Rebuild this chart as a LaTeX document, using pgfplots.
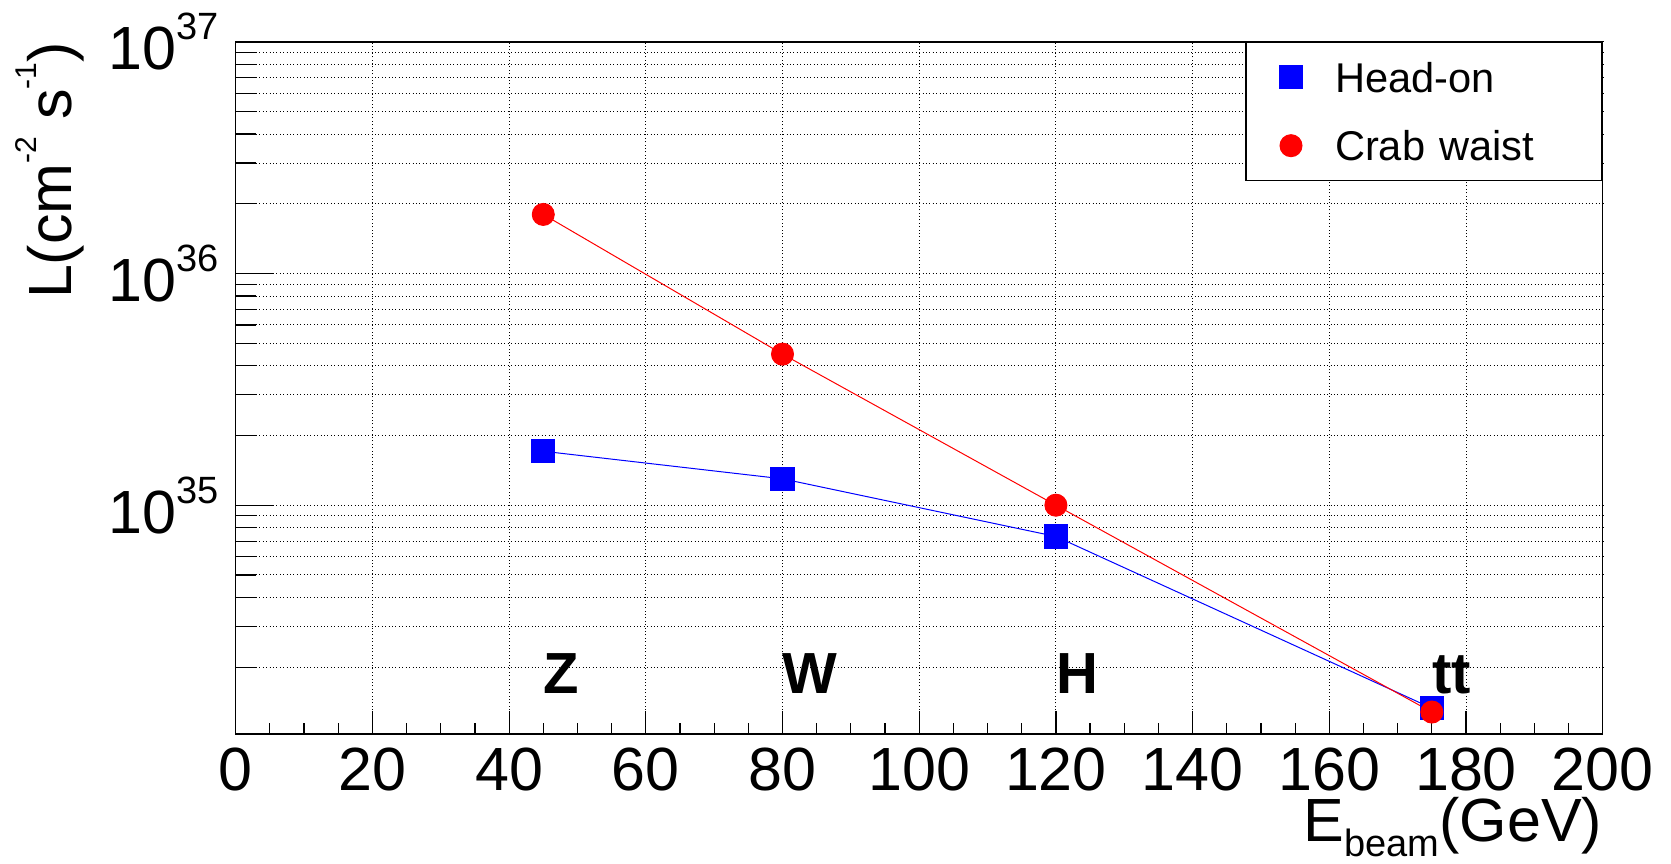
\documentclass[border=0pt]{standalone}
\usepackage{fontspec}
\setmainfont{Liberation Sans}
\usepackage{pgfplots}
\pgfplotsset{compat=1.18}
\usetikzlibrary{calc}

\newcommand{\sups}[1]{\raisebox{15pt}{\fontsize{19}{19}\selectfont #1}}
\newcommand{\lsups}[1]{\raisebox{17.5pt}{\fontsize{15}{15}\selectfont #1}}

\begin{document}
\begin{tikzpicture}
\begin{axis}[
  scale only axis, width=683.5pt, height=346pt,
  xmin=0, xmax=200, ymode=log, ymin=1.03e34, ymax=1e37,
  axis line style={black, line width=0.7pt},
  tick align=inside, xtick pos=left, ytick pos=left,
  xtick={0,20,...,200}, minor x tick num=3,
  ytick={1e35,1e36,1e37},
  yticklabels={10\sups{35}, 10\sups{36}, 10\sups{37}},
  minor ytick={2e34,3e34,4e34,5e34,6e34,7e34,8e34,9e34,
               2e35,3e35,4e35,5e35,6e35,7e35,8e35,9e35,
               2e36,3e36,4e36,5e36,6e36,7e36,8e36,9e36},
  xtick style={black, line width=0.6pt, /pgfplots/major tick length=11.7pt, /pgfplots/minor tick length=5.7pt},
  ytick style={black, line width=0.6pt, /pgfplots/major tick length=19pt, /pgfplots/minor tick length=10pt},
  /pgf/number format/assume math mode=true,
  tick label style={font=\fontsize{30.5}{30.5}\selectfont, inner sep=0pt},
  xticklabel style={anchor=north, yshift=-7pt},
  yticklabel style={anchor=east, xshift=-8.5pt},
  xmajorgrids, ymajorgrids, yminorgrids,
  major grid style={black, line width=0.5pt, dash pattern=on 0.5pt off 1.2pt},
  minor grid style={black, line width=0.5pt, dash pattern=on 0.5pt off 1.2pt},
  xlabel={E\raisebox{-7.5pt}{\fontsize{19}{19}\selectfont beam}(GeV)},
  xlabel style={at={(rel axis cs:1,-0.156)}, anchor=base east, inner sep=0pt, font=\fontsize{30.5}{30.5}\selectfont},
  ylabel={L(cm\lsups{-2} s\lsups{-1})},
  ylabel style={at={(rel axis cs:-0.11975,1)}, rotate=0, anchor=base east, inner sep=0pt, font=\fontsize{30.5}{30.5}\selectfont},
  legend cell align=left,
  legend style={at={(rel axis cs:1,1)}, anchor=north east, draw=black, line width=0.7pt, fill=white,
    inner xsep=11.5pt, inner ysep=6.35pt, row sep=12.2pt,
    font=\fontsize{20.8}{20.8}\selectfont,
    nodes={inner sep=0pt, text depth=0pt},
    /tikz/every odd column/.style={column sep=11pt},
    /tikz/column 2/.style={nodes={text width=122pt}}},
  legend image code/.code={\path[draw=none, fill=none] (-11pt,-11pt) rectangle (11pt,11pt); \draw[#1] plot coordinates {(0pt,0pt)};},
]
\addplot[blue, line width=0.5pt, mark=square*, mark size=5.8pt, mark options={fill=blue, draw=none}]
  coordinates {(45,1.71e35) (80,1.30e35) (120,7.33e34) (175,1.33e34)};
\addlegendentry{Head-on}
\addplot[red, line width=0.5pt, mark=*, mark size=5.5pt, mark options={fill=red, draw=none}]
  coordinates {(45,1.80e36) (80,4.49e35) (120,1.0e35) (175,1.28e34)};
\addlegendentry{Crab waist}
\node[anchor=base west, inner sep=0pt, font=\fontsize{29}{29}\selectfont\bfseries] at (axis cs:45,1.543e34) {Z};
\node[anchor=base west, inner sep=0pt, font=\fontsize{29}{29}\selectfont\bfseries] at (axis cs:80,1.543e34) {W};
\node[anchor=base west, inner sep=0pt, font=\fontsize{29}{29}\selectfont\bfseries] at (axis cs:120,1.543e34) {H};
\node[anchor=base west, inner sep=0pt, font=\fontsize{29}{29}\selectfont\bfseries] at (axis cs:175,1.543e34) {tt};
\end{axis}
\pgfresetboundingbox
\path ($(current axis.south west)+(-117.85pt,-64.5pt)$) rectangle ($(current axis.north east)+(34.15pt,21pt)$);
\end{tikzpicture}
\end{document}
